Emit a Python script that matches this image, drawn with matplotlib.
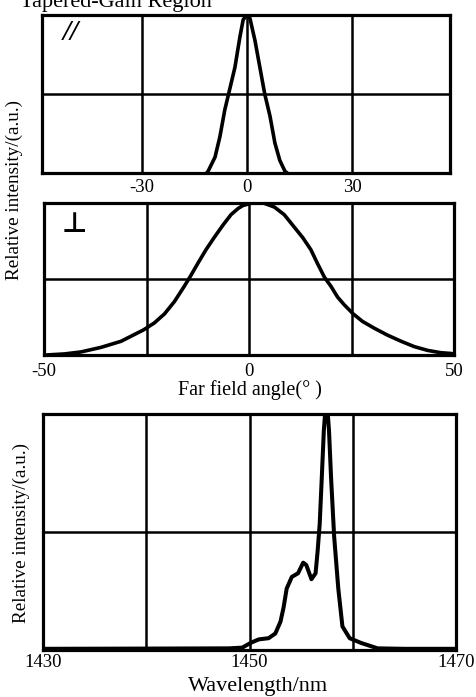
import matplotlib
matplotlib.use("Agg")
import matplotlib.pyplot as plt

# ---- data ----
par_angle = [-11.5, -11.1, -9.1, -7.7, -6.3, -4.9, -3.4, -2.0, -1.06, 0, 0.86, 2.3, 3.7, 5.1, 6.6, 8.0, 9.4, 10.9, 11.5]
par_int = [0.0, 0.01, 0.10, 0.23, 0.40, 0.53, 0.67, 0.86, 0.97, 1.0, 0.98, 0.84, 0.67, 0.50, 0.36, 0.19, 0.08, 0.01, 0.0]

perp_angle = [-50, -49.5, -45, -41, -36.1, -31.2, -25.7, -23.1, -20.6, -18.2, -15.8, -14.1, -12.5, -10.5, -8.5,
              -6.4, -4.4, -2.7, -1.5, 1.2, 3.7, 6.2, 8.6, 11.0, 13.1, 15.1, 16.7, 18.4, 20.0, 21.6, 23.2, 25.4,
              27.7, 30.6, 33.8, 37.1, 40.3, 43.6, 46.8, 49.3, 50]
perp_int = [0.0, 0.0, 0.007, 0.02, 0.05, 0.09, 0.165, 0.21, 0.27, 0.35, 0.45, 0.525, 0.60, 0.69, 0.77,
            0.85, 0.92, 0.96, 0.98, 1.0, 0.995, 0.97, 0.92, 0.84, 0.77, 0.69, 0.60, 0.51, 0.45, 0.38, 0.33, 0.27,
            0.22, 0.175, 0.13, 0.09, 0.055, 0.03, 0.015, 0.01, 0.005]

wavelength = [1430, 1440, 1448.0, 1449.3, 1450.1, 1450.9, 1451.85, 1452.5, 1453.0, 1453.3, 1453.6, 1454.1, 1454.7,
              1455.2, 1455.5, 1456.0, 1456.4, 1456.6, 1456.8, 1457.0, 1457.2, 1457.45, 1457.7, 1457.9, 1458.2,
              1458.6, 1459.0, 1459.7, 1460.8, 1462.4, 1465, 1470]
spec_int = [0.005, 0.006, 0.007, 0.01, 0.03, 0.045, 0.05, 0.07, 0.12, 0.18, 0.26, 0.31, 0.325,
            0.37, 0.36, 0.30, 0.325, 0.42, 0.535, 0.73, 0.93, 1.08, 0.93, 0.73, 0.48,
            0.26, 0.10, 0.05, 0.03, 0.007, 0.005, 0.005]

top_ticks = [-30, 0, 30]
top_ticklabels = ["-30", "0", "30"]
mid_grid = [-25, 0, 25]
mid_ticks = [-50, 0, 50]
mid_ticklabels = ["-50", "0", "50"]
bot_grid = [1440, 1450, 1460]
bot_ticks = [1430, 1450, 1470]
bot_ticklabels = ["1430", "1450", "1470"]

plt.rcParams['font.family'] = ['Liberation Serif', 'DejaVu Sans']

W, H = 476, 697
fig = plt.figure(figsize=(W / 100, H / 100), dpi=100)


def rect(l, t, r, b):
    return [l / W, 1 - b / H, (r - l) / W, (b - t) / H]


def style(ax):
    for s in ax.spines.values():
        s.set_linewidth(2.3)
        s.set_color('black')
        s.set_zorder(5)
    ax.tick_params(length=0, labelsize=13.5)
    ax.set_yticks([0.5])
    ax.set_yticklabels([])
    ax.axhline(0.5, color='black', lw=1.8, zorder=1)


# top panel
ax1 = fig.add_axes(rect(42, 15, 450, 173))
style(ax1)
ax1.set_xlim(-58.5, 58)
ax1.set_ylim(0, 1)
for g in top_ticks:
    ax1.axvline(g, color='black', lw=1.8, zorder=1)
ax1.plot(par_angle, par_int, color='black', lw=2.6, zorder=3)
ax1.set_xticks(top_ticks)
ax1.set_xticklabels(top_ticklabels)
ax1.tick_params(axis='x', pad=4)
ax1.text(0.07, 0.89, "//", transform=ax1.transAxes, fontsize=21, fontweight='bold',
         style='italic', ha='center', va='center')

# middle panel
ax2 = fig.add_axes(rect(44, 202.5, 454, 355))
style(ax2)
ax2.set_xlim(-50, 50)
ax2.set_ylim(0, 1)
for g in mid_grid:
    ax2.axvline(g, color='black', lw=1.8, zorder=1)
ax2.plot(perp_angle, perp_int, color='black', lw=2.6, zorder=3)
ax2.set_xticks(mid_ticks)
ax2.set_xticklabels(mid_ticklabels)
ax2.tick_params(axis='x', pad=6)
ax2.text(0.075, 0.86, "\u22a5", transform=ax2.transAxes, fontsize=20, fontweight='bold',
         ha='center', va='center', family='DejaVu Sans')

# bottom panel
ax3 = fig.add_axes(rect(43, 414, 456, 650))
style(ax3)
ax3.set_xlim(1430, 1470)
ax3.set_ylim(0, 1)
for g in bot_grid:
    ax3.axvline(g, color='black', lw=1.8, zorder=1)
ax3.plot(wavelength, spec_int, color='black', lw=2.9, zorder=3)
ax3.set_xticks(bot_ticks)
ax3.set_xticklabels(bot_ticklabels)
ax3.tick_params(axis='x', pad=3)

# labels
fig.text(250 / W, 1 - 390 / H, "Far field angle(\u00b0 )", ha='center', va='center', fontsize=14.5)
fig.text(258 / W, 1 - 686 / H, "Wavelength/nm", ha='center', va='center', fontsize=16)
fig.text(14 / W, 1 - 190 / H, "Relative intensity/(a.u.)", rotation=90, ha='center', va='center', fontsize=13.8)
fig.text(21 / W, 1 - 533 / H, "Relative intensity/(a.u.)", rotation=90, ha='center', va='center', fontsize=13.8)
fig.text(20 / W, 1 - 7 / H, "Tapered-Gain Region", ha='left', va='baseline', fontsize=16)

fig.savefig("out.png", dpi=100)
